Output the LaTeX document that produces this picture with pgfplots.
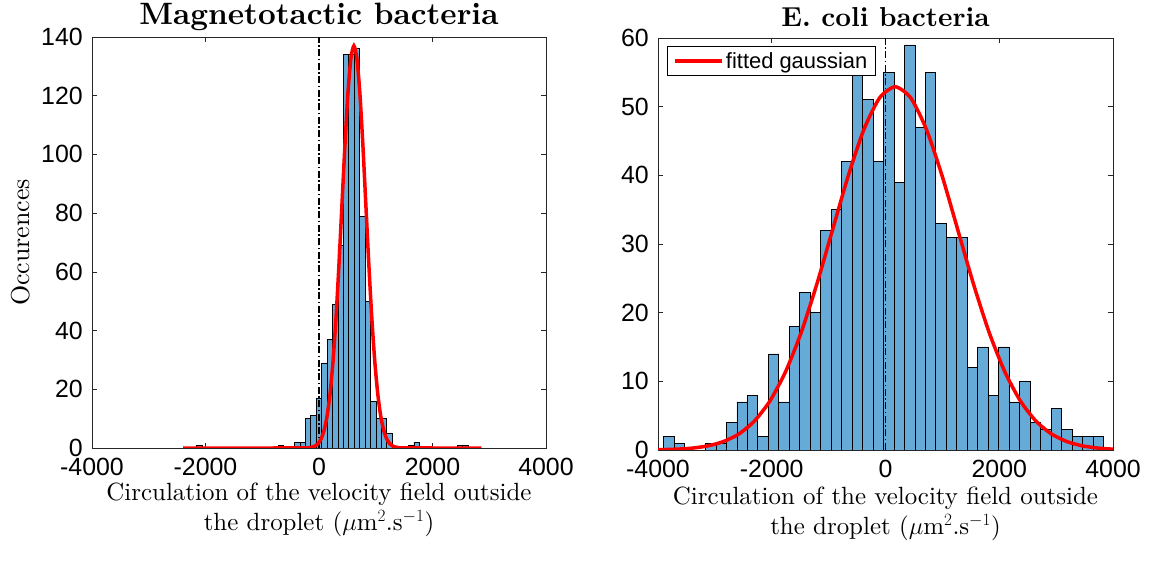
\documentclass[border=0pt]{standalone}
\usepackage{pgfplots}
\pgfplotsset{compat=1.18}
\usepackage{fontspec}
\setmainfont{lmroman10-regular.otf}[BoldFont=lmroman10-bold.otf, ItalicFont=lmroman10-italic.otf]
\newfontfamily\hel{Liberation Sans}
\definecolor{barblue}{RGB}{102,170,215}
\definecolor{axgray}{RGB}{38,38,38}
\pgfplotsset{
  myax/.style={
    scale only axis,
    axis line style={axgray, line width=0.7bp},
    every tick/.style={axgray, line width=0.7bp},
    major tick length=5bp,
    tick align=inside,
    xmin=-4000, xmax=4000,
    xtick={-4000,-2000,0,2000,4000},
    xticklabels={-4000,-2000,0,2000,4000},
    /pgf/number format/assume math mode=true,
    scaled ticks=false,
    ticklabel style={font=\hel\fontsize{25}{26}\selectfont, text=black, inner sep=0pt},
    xticklabel style={anchor=north, yshift=-10bp},
    yticklabel style={anchor=east, xshift=-9bp},
    every axis title/.style={anchor=base, inner sep=0pt},
    xlabel style={font=\fontsize{25}{30}\selectfont, align=center, anchor=north, inner sep=0pt},
    ylabel style={font=\fontsize{26}{30}\selectfont, anchor=south, inner sep=0pt},
    histo/.style={ybar interval, fill=barblue, draw=black, line width=0.7bp, forget plot},
    zeroline/.style={black, line width=1.4bp, dash pattern=on 7bp off 2.5bp on 1.5bp off 2.5bp, forget plot},
    fitline/.style={red, line width=3.5bp, smooth, tension=0.4},
  }
}
\begin{document}
\begin{tikzpicture}
\useasboundingbox (0,0) rectangle (1150bp,572bp);
% ---------------- left panel ----------------
\begin{axis}[myax,
  at={(92bp,124bp)}, anchor=south west,
  width=454bp, height=411bp,
  ymin=0, ymax=140, ytick={0,20,...,140},
  title={Magnetotactic bacteria},
  title style={at={(0.5,1.0292)}, font=\bfseries\fontsize{31}{32}\selectfont},
  ylabel={Occurences},
  ylabel style={at={(-0.1366,0.5)}},
  xlabel={Circulation of the velocity field outside\\the droplet ($\mu$m$^2$.s$^{-1}$)},
  xlabel style={at={(0.5,-0.0852)}},
]
\addplot[histo] coordinates {(-2154.6,1) (-2058.9,0)};
\addplot[histo] coordinates {(-719.1,1) (-623.4,0)};
\addplot[histo] coordinates {
(-432,2) (-336.3,2) (-240.6,10) (-144.9,11) (-49.2,17) (46.5,29) (142.2,37)
(237.9,49) (333.6,69) (429.3,134) (525.0,134) (620.7,136) (716.4,79)
(812.1,50) (907.8,16) (1003.5,10) (1099.2,10) (1194.9,5) (1290.6,0)};
\addplot[histo] coordinates {(1577.7,1) (1673.4,2) (1769.1,0)};
\addplot[histo] coordinates {(2439.0,1) (2534.7,1) (2630.4,0)};
\addplot[zeroline] coordinates {(0,0) (0,140)};
\addplot[fitline] coordinates {
(-2394,0) (-800,0) (-225,0.05) (-172.5,0.12) (-120,0.30) (-67.5,0.70) (-15,1.52)
(37.5,3.12) (90,6.02) (142.5,10.90) (195,18.54) (247.5,29.63) (300,44.48)
(352.5,62.72) (405,83.09) (457.5,103.41) (510,120.90) (562.5,132.78) (615,137.0)
(667.5,132.78) (720,120.90) (772.5,103.41) (825,83.09) (877.5,62.72) (930,44.48)
(982.5,29.63) (1035,18.54) (1087.5,10.90) (1140,6.02) (1192.5,3.12) (1245,1.52)
(1297.5,0.70) (1350,0.30) (1402.5,0.12) (1455,0.05) (2000,0) (2861,0)};
\end{axis}
% ---------------- right panel ----------------
\begin{axis}[myax,
  at={(658bp,122bp)}, anchor=south west,
  width=455bp, height=412bp,
  ymin=0, ymax=60, ytick={0,10,...,60},
  title={E. coli bacteria},
  title style={at={(0.5,1.0291)}, font=\bfseries\fontsize{27.5}{30}\selectfont},
  xlabel={Circulation of the velocity field outside\\the droplet ($\mu$m$^2$.s$^{-1}$)},
  xlabel style={at={(0.5,-0.0898)}},
  legend style={at={(0.02,0.981)}, anchor=north west, draw=black, line width=0.7bp,
    font=\hel\fontsize{22}{24}\selectfont, inner xsep=6bp, inner ysep=4bp,
    nodes={inner sep=2bp}},
  legend cell align=left,
  legend image code/.code={\draw[#1, line width=3.5bp] (0bp,0bp) -- (47bp,0bp);},
]
\addplot[histo] coordinates {
(-3901.5,2) (-3717.4,1) (-3533.3,0) (-3349.2,0) (-3165.1,1) (-2981.0,1)
(-2796.9,4) (-2612.8,7) (-2428.7,8) (-2244.6,2) (-2060.5,14) (-1876.4,7)
(-1692.3,18) (-1508.2,23) (-1324.1,20) (-1140.0,32) (-955.9,35) (-771.8,42)
(-587.7,56) (-403.6,51) (-219.5,42) (-35.4,55) (148.7,39) (332.8,59)
(516.9,47) (701.0,55) (885.1,33) (1069.2,31) (1253.3,31) (1437.4,12)
(1621.5,15) (1805.6,8) (1989.7,15) (2173.8,7) (2357.9,10) (2542.0,4)
(2726.1,3) (2910.2,6) (3094.3,3) (3278.4,2) (3462.5,2) (3646.6,2) (3830.7,0)};
\addplot[zeroline] coordinates {(0,0) (0,60)};
\addplot[fitline] coordinates {
(-4000,0.04) (-3680,0.116) (-3405,0.269) (-3130,0.588) (-2855,1.21) (-2580,2.32)
(-2305,4.21) (-2030,7.16) (-1755,11.44) (-1480,17.17) (-1205,24.22) (-930,32.09)
(-655,39.93) (-380,46.68) (-105,51.27) (170,52.90) (445,51.27) (720,46.68)
(995,39.93) (1270,32.09) (1545,24.22) (1820,17.17) (2095,11.44) (2370,7.16)
(2645,4.21) (2920,2.32) (3195,1.21) (3470,0.588) (3745,0.269) (4000,0.123)};
\addlegendentry{fitted gaussian}
\end{axis}
\end{tikzpicture}
\end{document}
